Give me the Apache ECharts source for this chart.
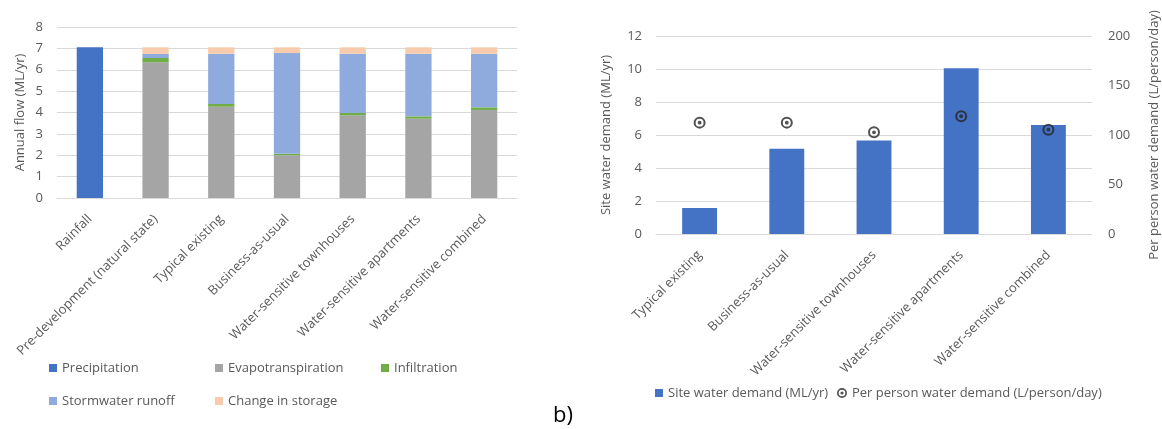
<!DOCTYPE html>
<html>
<head>
<meta charset="utf-8">
<script src="https://cdn.jsdelivr.net/npm/echarts@6/dist/echarts.min.js"></script>
<style>
  html, body { margin: 0; padding: 0; background: #fff; }
  #chart { width: 1162px; height: 429px; }
</style>
</head>
<body>
<div id="chart"></div>
<script>
// left chart: annual water balance
var flowCategories = ['Rainfall', 'Pre-development (natural state)', 'Typical existing', 'Business-as-usual',
    'Water-sensitive townhouses', 'Water-sensitive apartments', 'Water-sensitive combined'];
var precipitation = [7.05, null, null, null, null, null, null];
var evapotranspiration = [null, 6.35, 4.27, 2.0, 3.87, 3.71, 4.12];
var infiltration = [null, 0.2, 0.13, 0.07, 0.11, 0.11, 0.12];
var stormwaterRunoff = [null, 0.19, 2.35, 4.71, 2.77, 2.93, 2.51];
var changeInStorage = [null, 0.31, 0.3, 0.27, 0.3, 0.3, 0.3];
var flowTicks = [0, 8, 1];

// right chart: water demand
var demandCategories = ['Typical existing', 'Business-as-usual', 'Water-sensitive townhouses',
    'Water-sensitive apartments', 'Water-sensitive combined'];
var siteDemand = [1.58, 5.17, 5.66, 10.04, 6.61];
var perPersonDemand = [112.5, 112.5, 102.7, 118.9, 105.4];
var siteTicks = [0, 12, 2];
var personTicks = [0, 200, 50];

var FONT = '"Open Sans", sans-serif';
var TXT = '#595959';
var GRID = '#D9D9D9';
// ring with a dot in the middle (inner circle drawn the other way round so it stays hollow)
var RING = 'path://M10,0A10,10,0,1,1,10,20A10,10,0,1,1,10,0ZM10,3.4A6.6,6.6,0,1,0,10,16.6A6.6,6.6,0,1,0,10,3.4ZM10,6.8A3.2,3.2,0,1,1,10,13.2A3.2,3.2,0,1,1,10,6.8Z';

function valueAxis(idx, ticks, name, gap, pos) {
    return {
        type: 'value', gridIndex: idx, position: pos || 'left',
        min: ticks[0], max: ticks[1], interval: ticks[2],
        name: name, nameLocation: 'middle', nameGap: gap,
        nameTextStyle: { color: TXT, fontSize: 13, fontFamily: FONT },
        axisLine: { show: false }, axisTick: { show: false },
        axisLabel: { color: TXT, fontSize: 13, fontFamily: FONT, margin: pos === 'right' ? 16 : 14 },
        splitLine: { show: pos !== 'right', lineStyle: { color: GRID, width: 1 } }
    };
}

function catAxis(idx, data) {
    return {
        type: 'category', gridIndex: idx, data: data,
        axisLine: { lineStyle: { color: GRID } }, axisTick: { show: false },
        axisLabel: { color: TXT, fontSize: 13, fontFamily: FONT, rotate: 45, interval: 0, margin: 19 }
    };
}

function stackBar(name, data, color) {
    return {
        name: name, type: 'bar', stack: 'flow', xAxisIndex: 0, yAxisIndex: 0,
        data: data, barWidth: '40%', itemStyle: { color: color }
    };
}

function legend(left, top, names, icon, size, textWidth) {
    var text = { color: TXT, fontSize: 13, fontFamily: FONT, lineHeight: 16 };
    if (textWidth) text.width = textWidth;
    return {
        left: left, top: top, orient: 'horizontal', data: names, padding: 0,
        icon: icon, itemWidth: size, itemHeight: size, itemGap: 13,
        selectedMode: false, textStyle: text
    };
}

var chart = echarts.init(document.getElementById('chart'));
chart.setOption({
    animation: false,
    grid: [
        { left: 57, right: 645, top: 27, bottom: 231 },
        { left: 656, right: 65, top: 36, bottom: 195 }
    ],
    xAxis: [catAxis(0, flowCategories), catAxis(1, demandCategories)],
    yAxis: [
        valueAxis(0, flowTicks, 'Annual flow (ML/yr)', 30),
        valueAxis(1, siteTicks, 'Site water demand (ML/yr)', 43),
        valueAxis(1, personTicks, 'Per person water demand (L/person/day)', 56, 'right')
    ],
    legend: [
        legend(49, 360, ['Precipitation', 'Evapotranspiration', 'Infiltration'], 'rect', 8, 140),
        legend(49, 393, ['Stormwater runoff', 'Change in storage'], 'rect', 8, 140),
        legend(655, 385, ['Site water demand (ML/yr)'], 'rect', 8),
        legend(837, 385, ['Per person water demand (L/person/day)'], RING, 10)
    ],
    graphic: [{
        type: 'text', left: 553, top: 405,
        style: { text: 'b)', fontSize: 22, fontFamily: FONT, fill: '#000' }
    }],
    series: [
        stackBar('Precipitation', precipitation, '#4472C4'),
        stackBar('Evapotranspiration', evapotranspiration, '#A5A5A5'),
        stackBar('Infiltration', infiltration, '#70AD47'),
        stackBar('Stormwater runoff', stormwaterRunoff, '#8FAADC'),
        stackBar('Change in storage', changeInStorage, '#F8CBAD'),
        {
            name: 'Site water demand (ML/yr)', type: 'bar', xAxisIndex: 1, yAxisIndex: 1,
            data: siteDemand, barWidth: '40%', itemStyle: { color: '#4472C4' }
        },
        {
            name: 'Per person water demand (L/person/day)', type: 'scatter', xAxisIndex: 1, yAxisIndex: 2,
            data: perPersonDemand, symbol: RING, symbolSize: 12, itemStyle: { color: '#262626' }, z: 3
        }
    ]
});
</script>
</body>
</html>
